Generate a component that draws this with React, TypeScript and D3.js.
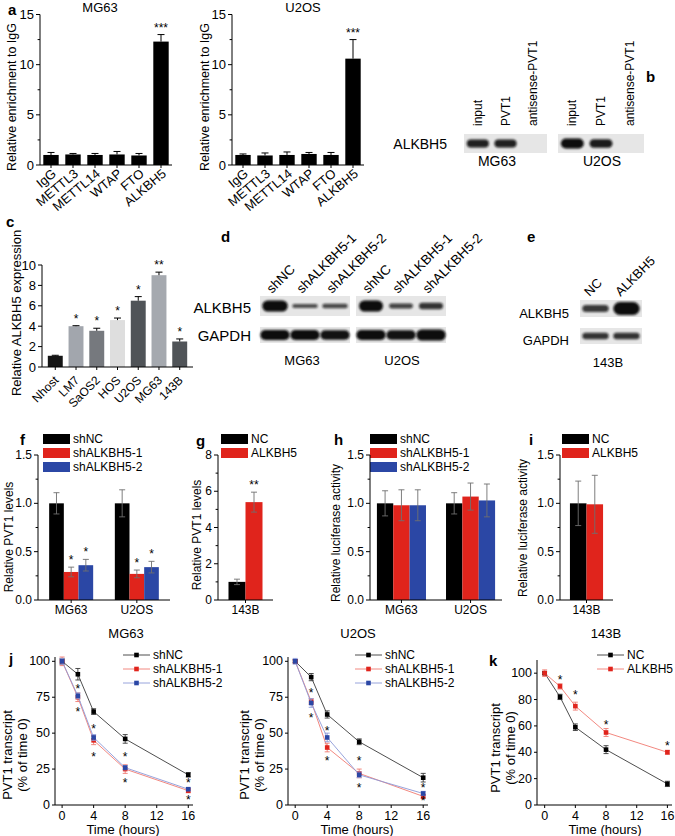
import React from "react";
import * as d3 from "d3";

const FONT = "'Liberation Sans', Arial, Helvetica, sans-serif";
const RED = "#e0241c";
const BLUE = "#2b47a5";

// ---------- panel a ----------
const aCategories = ["IgG", "METTL3", "METTL14", "WTAP", "FTO", "ALKBH5"];
const aMG63Values = [1.0, 1.05, 1.0, 1.05, 0.95, 12.3];
const aMG63Errors = [0.25, 0.1, 0.15, 0.3, 0.2, 0.7];
const aU2OSValues = [1.0, 0.95, 1.0, 1.1, 1.0, 10.6];
const aU2OSErrors = [0.1, 0.25, 0.3, 0.15, 0.25, 1.9];
const aStars = ["", "", "", "", "", "***"];
const aTicks = [0, 5, 10, 15];
const aMinorTicks = [2.5, 7.5, 12.5];

// ---------- panel b ----------
const bLanes = ["input", "PVT1", "antisense-PVT1"];
const bMG63Bands = [0.8, 0.8, 0];
const bU2OSBands = [1.0, 0.85, 0];

// ---------- panel c ----------
const cCategories = ["Nhost", "LM7", "SaOS2", "HOS", "U2OS", "MG63", "143B"];
const cValues = [1.1, 4.0, 3.55, 4.6, 6.5, 9.0, 2.5];
const cErrors = [0.05, 0.05, 0.25, 0.2, 0.4, 0.3, 0.25];
const cStars = ["", "*", "*", "*", "*", "**", "*"];
const cTicks = [0, 2, 4, 6, 8, 10];

// ---------- panel d ----------
const dLanes = ["shNC", "shALKBH5-1", "shALKBH5-2"];
const dMG63ALKBH5 = [1.0, 0.35, 0.4];
const dMG63GAPDH = [1.0, 1.0, 0.95];
const dU2OSALKBH5 = [1.0, 0.45, 0.6];
const dU2OSGAPDH = [1.0, 0.95, 1.1];

// ---------- panel e ----------
const eLanes = ["NC", "ALKBH5"];
const eALKBH5 = [0.55, 1.0];
const eGAPDH = [0.6, 0.6];

// ---------- panels f-i ----------
const cellGroups = ["MG63", "U2OS"];
const shSeries = ["shNC", "shALKBH5-1", "shALKBH5-2"];
const fValues = [[1.0, 1.0], [0.29, 0.27], [0.36, 0.34]];
const fErrors = [[0.11, 0.14], [0.05, 0.04], [0.06, 0.06]];
const fStars = [["", ""], ["*", "*"], ["*", "*"]];
const ratioTicks = [0, 0.5, 1.0, 1.5];
const ratioMinor = [0.25, 0.75, 1.25];

const oeGroups = ["143B"];
const oeSeries = ["NC", "ALKBH5"];
const gValues = [[1.0], [5.4]];
const gErrors = [[0.15], [0.55]];
const gStars = [[""], ["**"]];
const gTicks = [0, 2, 4, 6, 8];
const gMinor = [1, 3, 5, 7];

const hValues = [[1.0, 1.0], [0.98, 1.07], [0.98, 1.03]];
const hErrors = [[0.13, 0.11], [0.16, 0.14], [0.16, 0.17]];
const hStars = [["", ""], ["", ""], ["", ""]];

const iValues = [[1.0], [0.99]];
const iErrors = [[0.23], [0.3]];
const iStars = [[""], [""]];

// ---------- panels j-k ----------
const timePoints = [0, 2, 4, 8, 16];
const timeTicks = [0, 4, 8, 12, 16];
const jTicks = [0, 25, 50, 75, 100];
const kTicks = [0, 20, 40, 60, 80, 100];

const jMG63shNC = [100, 91, 65, 46, 21];
const jMG63shNCErr = [2, 4, 2, 3, 1.5];
const jMG63sh1 = [100, 75, 45, 25, 10];
const jMG63sh1Err = [3, 3, 3, 3, 1.5];
const jMG63sh2 = [100, 76, 47, 26, 11];
const jMG63sh2Err = [2, 2, 2, 1.5, 1];
const jMG63StarTimes = [2, 4, 8, 16, 2, 4, 8, 16];
const jMG63StarValues = [82, 54, 35, 17, 66, 35, 17, 5];

const jU2OSshNC = [100, 89, 63, 44, 19];
const jU2OSshNCErr = [1, 2.5, 2.5, 2, 3];
const jU2OSsh1 = [100, 72, 40, 22, 6];
const jU2OSsh1Err = [1, 2, 3, 3, 1.5];
const jU2OSsh2 = [100, 71, 47, 21, 8];
const jU2OSsh2Err = [2, 3, 3, 2, 1.5];
const jU2OSStarTimes = [2, 4, 8, 16, 2, 4, 8, 16];
const jU2OSStarValues = [79, 53, 32, 13, 62, 32, 13, 4];

const kNC = [100, 82, 59, 42, 16];
const kNCErr = [1, 2, 2.5, 3, 2];
const kALKBH5 = [100, 90, 75, 55, 40];
const kALKBH5Err = [2.5, 2, 3, 3, 1.5];
const kStarTimes = [2, 4, 8, 16];
const kStarValues = [96, 85, 62, 46];

// ================= helpers =================
function LeftAxis({ x, y, ticks, minor = [], fmt = (d: number) => String(d), fs = 13, tickLen = 4, gap = 6, top }: any) {
  const r = y.range();
  const y0 = Math.max(r[0], r[1]);
  const y1 = top !== undefined ? top : Math.min(r[0], r[1]);
  return (
    <g>
      <line x1={x} x2={x} y1={y0} y2={y1} stroke="#000" strokeWidth={1} />
      {ticks.map((t: number) => (
        <g key={"M" + t}>
          <line x1={x - tickLen} x2={x} y1={y(t)} y2={y(t)} stroke="#000" strokeWidth={1} />
          <text x={x - gap} y={y(t)} textAnchor="end" dominantBaseline="central" fontSize={fs}>
            {fmt(t)}
          </text>
        </g>
      ))}
      {minor.map((t: number) => (
        <line key={"m" + t} x1={x - tickLen * 0.6} x2={x} y1={y(t)} y2={y(t)} stroke="#000" strokeWidth={1} />
      ))}
    </g>
  );
}

function VLabel({ x, y, text, fs = 12, lines }: any) {
  const ls = lines || [text];
  return (
    <text transform={`translate(${x},${y}) rotate(-90)`} textAnchor="middle" fontSize={fs}>
      {ls.map((l: string, i: number) => (
        <tspan key={i} x={0} dy={i === 0 ? -(ls.length - 1) * fs * 0.55 + fs * 0.35 : fs * 1.1}>
          {l}
        </tspan>
      ))}
    </text>
  );
}

function SimpleBars({ cats, values, errors, stars, fills, x0, x1, y, ticks, minor, pi, po, angle, labelDx, labelY, stroke, labelFs = 12, tickFs = 13, starFs = 12 }: any) {
  const xb = d3.scaleBand<string>().domain(cats).range([x0, x1]).paddingInner(pi).paddingOuter(po);
  const base = y(0);
  const bw = xb.bandwidth();
  return (
    <g>
      {cats.map((c: string, i: number) => {
        const bx = xb(c) as number;
        const cx = bx + bw / 2;
        const top = y(values[i]);
        const et = y(values[i] + errors[i]);
        return (
          <g key={c}>
            <rect x={bx} y={top} width={bw} height={base - top} fill={fills[i]} stroke={stroke} strokeWidth={stroke ? 0.8 : 0} />
            <line x1={cx} x2={cx} y1={top} y2={et} stroke="#000" strokeWidth={1} />
            <line x1={cx - 3.5} x2={cx + 3.5} y1={et} y2={et} stroke="#000" strokeWidth={1} />
            {stars[i] ? (
              <text x={cx} y={et - 3} textAnchor="middle" fontSize={starFs}>
                {stars[i]}
              </text>
            ) : null}
            <line x1={cx} x2={cx} y1={base} y2={base + 3} stroke="#000" strokeWidth={1} />
            <text transform={`translate(${cx + labelDx},${labelY}) rotate(${angle})`} textAnchor="end" fontSize={labelFs}>
              {c}
            </text>
          </g>
        );
      })}
      <line x1={x0} x2={x1} y1={base} y2={base} stroke="#000" strokeWidth={1} />
      <LeftAxis x={x0} y={y} ticks={ticks} minor={minor} fs={tickFs} />
    </g>
  );
}

function GroupedBars({ groups, series, values, errors, stars, fills, x0, x1, y, ticks, minor, fmt, pi, po, fs = 12 }: any) {
  const xg = d3.scaleBand<string>().domain(groups).range([x0, x1]).paddingInner(pi).paddingOuter(po);
  const xs = d3.scaleBand<string>().domain(series).range([0, xg.bandwidth()]);
  const base = y(0);
  return (
    <g>
      {groups.map((g: string, gi: number) => {
        const gx = xg(g) as number;
        return (
          <g key={g}>
            {series.map((s: string, si: number) => {
              const bx = gx + (xs(s) as number);
              const bw = xs.bandwidth();
              const cx = bx + bw / 2;
              const v = values[si][gi];
              const e = errors[si][gi];
              const top = y(v);
              const et = y(v + e);
              const eb = y(v - e);
              return (
                <g key={s}>
                  <rect x={bx} y={top} width={bw} height={base - top} fill={fills[si]} />
                  <line x1={cx} x2={cx} y1={eb} y2={et} stroke="#6f6f6f" strokeWidth={0.9} />
                  <line x1={cx - 3} x2={cx + 3} y1={et} y2={et} stroke="#6f6f6f" strokeWidth={0.9} />
                  <line x1={cx - 3} x2={cx + 3} y1={eb} y2={eb} stroke="#6f6f6f" strokeWidth={0.9} />
                  {stars[si][gi] ? (
                    <text x={cx} y={et - 3} textAnchor="middle" fontSize={12}>
                      {stars[si][gi]}
                    </text>
                  ) : null}
                </g>
              );
            })}
            <line x1={gx + xg.bandwidth() / 2} x2={gx + xg.bandwidth() / 2} y1={base} y2={base + 3} stroke="#000" />
            <text x={gx + xg.bandwidth() / 2} y={base + 10} textAnchor="middle" dominantBaseline="central" fontSize={fs}>
              {g}
            </text>
          </g>
        );
      })}
      <line x1={x0} x2={x1} y1={base} y2={base} stroke="#000" strokeWidth={1} />
      <LeftAxis x={x0} y={y} ticks={ticks} minor={minor} fmt={fmt} fs={fs} />
    </g>
  );
}

function BarLegend({ x, y0, names, fills, fs = 12 }: any) {
  return (
    <g>
      {names.map((n: string, i: number) => (
        <g key={n}>
          <rect x={x} y={y0 + i * 14} width={27} height={10} fill={fills[i]} />
          <text x={x + 30} y={y0 + i * 14 + 5} dominantBaseline="central" fontSize={fs}>
            {n}
          </text>
        </g>
      ))}
    </g>
  );
}

function LinePanel({ x, y, xAxis0, xAxis1, yTop, yTicks, series, starTimes, starValues, fs = 12.5 }: any) {
  const base = y(0);
  const line = d3
    .line<number>()
    .x((_, i) => x(timePoints[i]))
    .y((d) => y(d));
  return (
    <g>
      <line x1={xAxis0} x2={xAxis1} y1={base} y2={base} stroke="#000" />
      {timeTicks.map((t) => (
        <g key={t}>
          <line x1={x(t)} x2={x(t)} y1={base} y2={base + 3} stroke="#000" />
          <text x={x(t)} y={base + 10.5} textAnchor="middle" dominantBaseline="central" fontSize={fs}>
            {t}
          </text>
        </g>
      ))}
      <LeftAxis x={xAxis0} y={y} ticks={yTicks} fs={fs} top={yTop} gap={5} tickLen={3} />
      {series.map((s: any, si: number) => (
        <g key={si}>
          <path d={line(s.values) as string} fill="none" stroke={s.line} strokeWidth={0.9} />
          {s.values.map((v: number, i: number) => {
            const cx = x(timePoints[i]);
            const e = s.errors[i];
            return (
              <g key={i}>
                <line x1={cx} x2={cx} y1={y(v - e)} y2={y(v + e)} stroke={s.line} strokeWidth={0.9} />
                <line x1={cx - 2.5} x2={cx + 2.5} y1={y(v + e)} y2={y(v + e)} stroke={s.line} strokeWidth={0.9} />
                <line x1={cx - 2.5} x2={cx + 2.5} y1={y(v - e)} y2={y(v - e)} stroke={s.line} strokeWidth={0.9} />
                <rect x={cx - 2.3} y={y(v) - 2.3} width={4.6} height={4.6} fill={s.marker} />
              </g>
            );
          })}
        </g>
      ))}
      {starTimes.map((t: number, i: number) => (
        <text key={"s" + i} x={x(t)} y={y(starValues[i]) + 6} textAnchor="middle" fontSize={12}>
          *
        </text>
      ))}
    </g>
  );
}

function LineLegend({ x, y0, items, fs = 12 }: any) {
  return (
    <g>
      {items.map((it: any, i: number) => (
        <g key={it.name}>
          <line x1={x} x2={x + 27} y1={y0 + i * 14} y2={y0 + i * 14} stroke={it.line} strokeWidth={0.9} />
          <rect x={x + 13.5 - 2.3} y={y0 + i * 14 - 2.3} width={4.6} height={4.6} fill={it.marker} />
          <text x={x + 30} y={y0 + i * 14} dominantBaseline="central" fontSize={fs}>
            {it.name}
          </text>
        </g>
      ))}
    </g>
  );
}

function BlotRow({ x0, x1, y, h, lanes, bands, bandH, fill = "#e6e6e6", widthFrac = 0.8 }: any) {
  const xb = d3.scaleBand<string>().domain(lanes).range([x0, x1]).padding(0);
  return (
    <g>
      <rect x={x0} y={y} width={x1 - x0} height={h} fill={fill} />
      {lanes.map((l: string, i: number) => {
        const k = bands[i];
        if (!k) return null;
        const cx = (xb(l) as number) + xb.bandwidth() / 2;
        const bw = xb.bandwidth() * widthFrac;
        const bh = Math.max(3, bandH * k);
        return (
          <rect
            key={l}
            x={cx - bw / 2}
            y={y + h / 2 - bh / 2}
            width={bw}
            height={bh}
            rx={bh / 2}
            fill="#0c0c0c"
            opacity={0.55 + 0.45 * k}
            filter="url(#bandBlur)"
          />
        );
      })}
    </g>
  );
}

function laneCenters(lanes: string[], x0: number, x1: number) {
  const xb = d3.scaleBand<string>().domain(lanes).range([x0, x1]).padding(0);
  return lanes.map((l) => (xb(l) as number) + xb.bandwidth() / 2);
}

function PanelLabel({ x, y, t }: any) {
  return (
    <text x={x} y={y} fontSize={15} fontWeight="bold">
      {t}
    </text>
  );
}

export default function App() {
  // a
  const aY = d3.scaleLinear().domain([0, 15]).range([165, 14.5]);
  // c
  const cY = d3.scaleLinear().domain([0, 10]).range([367, 265]);
  // f-i
  const rY = d3.scaleLinear().domain([0, 1.5]).range([600, 455]);
  const gY = d3.scaleLinear().domain([0, 8]).range([600, 455]);
  const fmt1 = (d: number) => d.toFixed(1);
  // j-k
  const jY = d3.scaleLinear().domain([0, 103]).range([805, 657]);
  const jX1 = d3.scaleLinear().domain([-0.9, 16.6]).range([55, 193]);
  const jX2 = d3.scaleLinear().domain([-0.9, 16.6]).range([288, 428]);
  const kY = d3.scaleLinear().domain([0, 110]).range([805, 660]);
  const kX = d3.scaleLinear().domain([-1, 16.6]).range([537, 672]);

  const shFills = ["#000000", RED, BLUE];
  const oeFills = ["#000000", RED];
  const cFills = ["#151515", "#a2a6ad", "#76797e", "#dedede", "#505458", "#a5a9af", "#505458"];

  const bMGc = laneCenters(bLanes, 464, 547);
  const bU2c = laneCenters(bLanes, 558, 644);
  const dMGc = laneCenters(dLanes, 260, 350);
  const dU2c = laneCenters(dLanes, 356, 446);
  const eC = laneCenters(eLanes, 580, 642);

  const shLineItems = [
    { name: "shNC", line: "#3a3a3a", marker: "#000" },
    { name: "shALKBH5-1", line: "#f07a72", marker: RED },
    { name: "shALKBH5-2", line: "#8c9ad8", marker: BLUE },
  ];
  const oeLineItems = [
    { name: "NC", line: "#3a3a3a", marker: "#000" },
    { name: "ALKBH5", line: "#f07a72", marker: RED },
  ];

  return (
    <svg
      width={675}
      height={836}
      style={{ position: "absolute", left: 0, top: 0, background: "#fff" }}
      fontFamily={FONT}
    >
      <defs>
        <filter id="bandBlur" x="-30%" y="-80%" width="160%" height="260%">
          <feGaussianBlur stdDeviation="1.1" />
        </filter>
      </defs>
      <rect width={675} height={836} fill="#fff" />

      {/* ---------- a ---------- */}
      <PanelLabel x={8} y={15} t="a" />
      <text x={100} y={12} textAnchor="middle" fontSize={13}>MG63</text>
      <VLabel x={12} y={97} text="Relative enrichment to IgG" fs={12.5} />
      <SimpleBars cats={aCategories} values={aMG63Values} errors={aMG63Errors} stars={aStars}
        fills={aCategories.map(() => "#000")} x0={40} x1={172} y={aY} ticks={aTicks} minor={aMinorTicks}
        pi={0.3} po={0.15} angle={-40} labelDx={6} labelY={175} labelFs={13} />
      <text x={303} y={12} textAnchor="middle" fontSize={13}>U2OS</text>
      <VLabel x={205} y={97} text="Relative enrichment to IgG" fs={12.5} />
      <SimpleBars cats={aCategories} values={aU2OSValues} errors={aU2OSErrors} stars={aStars}
        fills={aCategories.map(() => "#000")} x0={232} x1={364} y={aY} ticks={aTicks} minor={aMinorTicks}
        pi={0.3} po={0.15} angle={-40} labelDx={6} labelY={175} labelFs={13} />

      {/* ---------- b ---------- */}
      <PanelLabel x={646} y={82} t="b" />
      {bLanes.map((l, i) => (
        <g key={"bl" + i}>
          <text transform={`translate(${bMGc[i] + 4},${126}) rotate(-90)`} fontSize={12}>{l}</text>
          <text transform={`translate(${bU2c[i] + 4},${126}) rotate(-90)`} fontSize={12}>{l}</text>
        </g>
      ))}
      <text x={447} y={144} textAnchor="end" dominantBaseline="central" fontSize={14}>ALKBH5</text>
      <BlotRow x0={464} x1={547} y={134} h={19} lanes={bLanes} bands={bMG63Bands} bandH={10} />
      <BlotRow x0={558} x1={644} y={134} h={19} lanes={bLanes} bands={bU2OSBands} bandH={10} />
      <text x={497} y={161} textAnchor="middle" dominantBaseline="central" fontSize={14}>MG63</text>
      <text x={602} y={161} textAnchor="middle" dominantBaseline="central" fontSize={14}>U2OS</text>

      {/* ---------- c ---------- */}
      <PanelLabel x={6} y={227} t="c" />
      <VLabel x={16} y={313} text="Relative ALKBH5 expression" fs={13} />
      <SimpleBars cats={cCategories} values={cValues} errors={cErrors} stars={cStars} fills={cFills}
        x0={42} x1={193} y={cY} ticks={cTicks} minor={[]} pi={0.28} po={0.28} angle={-45}
        labelDx={4} labelY={381} />

      {/* ---------- d ---------- */}
      <PanelLabel x={221} y={242} t="d" />
      {dLanes.map((l, i) => (
        <g key={"dl" + i}>
          <text transform={`translate(${dMGc[i] - 3},${294}) rotate(-45)`} fontSize={13.5}>{l}</text>
          <text transform={`translate(${dU2c[i] - 3},${294}) rotate(-45)`} fontSize={13.5}>{l}</text>
        </g>
      ))}
      <text x={251} y={307} textAnchor="end" dominantBaseline="central" fontSize={15}>ALKBH5</text>
      <text x={251} y={335} textAnchor="end" dominantBaseline="central" fontSize={15}>GAPDH</text>
      <BlotRow x0={260} x1={350} y={296} h={20} lanes={dLanes} bands={dMG63ALKBH5} bandH={11} widthFrac={0.85} />
      <BlotRow x0={356} x1={446} y={296} h={20} lanes={dLanes} bands={dU2OSALKBH5} bandH={11} widthFrac={0.8} />
      <BlotRow x0={260} x1={350} y={327} h={16} lanes={dLanes} bands={dMG63GAPDH} bandH={10} widthFrac={0.98} />
      <BlotRow x0={356} x1={446} y={327} h={16} lanes={dLanes} bands={dU2OSGAPDH} bandH={10} widthFrac={0.98} />
      <text x={302} y={360} textAnchor="middle" dominantBaseline="central" fontSize={13}>MG63</text>
      <text x={402} y={360} textAnchor="middle" dominantBaseline="central" fontSize={13}>U2OS</text>

      {/* ---------- e ---------- */}
      <PanelLabel x={527} y={242} t="e" />
      {eLanes.map((l, i) => (
        <text key={"el" + i} transform={`translate(${eC[i] - 6},${297}) rotate(-45)`} fontSize={13}>{l}</text>
      ))}
      <text x={569} y={313} textAnchor="end" dominantBaseline="central" fontSize={13}>ALKBH5</text>
      <text x={569} y={340} textAnchor="end" dominantBaseline="central" fontSize={13}>GAPDH</text>
      <BlotRow x0={580} x1={642} y={300} h={17} lanes={eLanes} bands={eALKBH5} bandH={13} widthFrac={0.85} />
      <BlotRow x0={580} x1={642} y={328} h={16} lanes={eLanes} bands={eGAPDH} bandH={11} widthFrac={0.85} />
      <text x={608} y={362} textAnchor="middle" dominantBaseline="central" fontSize={13}>143B</text>

      {/* ---------- f ---------- */}
      <PanelLabel x={20} y={445} t="f" />
      <BarLegend x={43} y0={434} names={shSeries} fills={shFills} />
      <VLabel x={9} y={537} text="Relative PVT1 levels" fs={12} />
      <GroupedBars groups={cellGroups} series={shSeries} values={fValues} errors={fErrors} stars={fStars}
        fills={shFills} x0={38} x1={170} y={rY} ticks={ratioTicks} minor={ratioMinor} fmt={fmt1} pi={0.33} po={0.17} />

      {/* ---------- g ---------- */}
      <PanelLabel x={196} y={446} t="g" />
      <BarLegend x={221} y0={434} names={oeSeries} fills={oeFills} />
      <VLabel x={197} y={535} text="Relative PVT1 levels" fs={12} />
      <GroupedBars groups={oeGroups} series={oeSeries} values={gValues} errors={gErrors} stars={gStars}
        fills={oeFills} x0={218} x1={273} y={gY} ticks={gTicks} minor={gMinor} fmt={(d: number) => String(d)} pi={0.3} po={0.216} />

      {/* ---------- h ---------- */}
      <PanelLabel x={334} y={445} t="h" />
      <BarLegend x={370} y0={434} names={shSeries} fills={shFills} />
      <VLabel x={336} y={533} text="Relative luciferase activity" fs={12} />
      <GroupedBars groups={cellGroups} series={shSeries} values={hValues} errors={hErrors} stars={hStars}
        fills={shFills} x0={370} x1={502} y={rY} ticks={ratioTicks} minor={ratioMinor} fmt={fmt1} pi={0.29} po={0.1} />

      {/* ---------- i ---------- */}
      <PanelLabel x={529} y={445} t="i" />
      <BarLegend x={562} y0={434} names={oeSeries} fills={oeFills} />
      <VLabel x={523} y={528} text="Relative luciferase activity" fs={12} />
      <GroupedBars groups={oeGroups} series={oeSeries} values={iValues} errors={iErrors} stars={iStars}
        fills={oeFills} x0={560} x1={613} y={rY} ticks={ratioTicks} minor={ratioMinor} fmt={fmt1} pi={0.3} po={0.21} />

      {/* ---------- j ---------- */}
      <PanelLabel x={9} y={664} t="j" />
      <text x={126} y={638} textAnchor="middle" fontSize={13}>MG63</text>
      <VLabel x={15} y={755} lines={["PVT1 transcript", "(% of time 0)"]} fs={13} />
      <LinePanel x={jX1} y={jY} xAxis0={55} xAxis1={193} yTop={657} yTicks={jTicks}
        series={[
          { values: jMG63shNC, errors: jMG63shNCErr, line: "#3a3a3a", marker: "#000" },
          { values: jMG63sh1, errors: jMG63sh1Err, line: "#f07a72", marker: RED },
          { values: jMG63sh2, errors: jMG63sh2Err, line: "#8c9ad8", marker: BLUE },
        ]}
        starTimes={jMG63StarTimes} starValues={jMG63StarValues} />
      <LineLegend x={123} y0={655} items={shLineItems} />
      <text x={123} y={829} textAnchor="middle" dominantBaseline="central" fontSize={13}>Time (hours)</text>

      <text x={358} y={638} textAnchor="middle" fontSize={13}>U2OS</text>
      <VLabel x={252} y={755} lines={["PVT1 transcript", "(% of time 0)"]} fs={13} />
      <LinePanel x={jX2} y={jY} xAxis0={288} xAxis1={428} yTop={657} yTicks={jTicks}
        series={[
          { values: jU2OSshNC, errors: jU2OSshNCErr, line: "#3a3a3a", marker: "#000" },
          { values: jU2OSsh1, errors: jU2OSsh1Err, line: "#f07a72", marker: RED },
          { values: jU2OSsh2, errors: jU2OSsh2Err, line: "#8c9ad8", marker: BLUE },
        ]}
        starTimes={jU2OSStarTimes} starValues={jU2OSStarValues} />
      <LineLegend x={355} y0={655} items={shLineItems} />
      <text x={357} y={829} textAnchor="middle" dominantBaseline="central" fontSize={13}>Time (hours)</text>

      {/* ---------- k ---------- */}
      <PanelLabel x={489} y={666} t="k" />
      <text x={606} y={638} textAnchor="middle" fontSize={13}>143B</text>
      <VLabel x={503} y={748} lines={["PVT1 transcript", "(% of time 0)"]} fs={13} />
      <LinePanel x={kX} y={kY} xAxis0={537} xAxis1={672} yTop={660} yTicks={kTicks}
        series={[
          { values: kNC, errors: kNCErr, line: "#3a3a3a", marker: "#000" },
          { values: kALKBH5, errors: kALKBH5Err, line: "#f07a72", marker: RED },
        ]}
        starTimes={kStarTimes} starValues={kStarValues} />
      <LineLegend x={597} y0={655} items={oeLineItems} />
      <text x={605} y={829} textAnchor="middle" dominantBaseline="central" fontSize={13}>Time (hours)</text>
    </svg>
  );
}
